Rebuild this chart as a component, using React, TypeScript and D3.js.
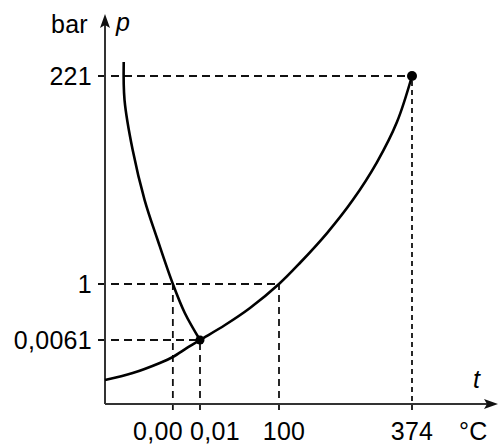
import React from 'react';
import * as d3 from 'd3';

// ticks on the axes
const tempTicks = [0, 0.01, 100, 374];
const tempLabels = ['0,00', '0,01', '100', '374'];
const pressTicks = [0.0061, 1, 221];
const pressLabels = ['0,0061', '1', '221'];

// melting curve (t in °C, p in bar), schematic
const meltT = [-0.0181, -0.0178, -0.0148, -0.0104, -0.0056, 0, 0.0044, 0.01];
const meltP = [235.8, 195.6, 142.7, 89.8, 47.5, 1, 0.485, 0.0061];

// sublimation + vaporization curve
const vapT = [-0.025, -0.0148, -0.0048, 0, 0.0052, 0.01, 31.7, 63.3, 100, 143, 199, 252, 302, 343, 374];
const vapP = [0.00229, 0.00295, 0.00391, 0.00448, 0.00534, 0.0061, 0.272, 0.574, 1, 23.2, 54.9, 89.8, 130, 172.3, 221];

const triplePoint = [0.01, 0.0061];
const criticalPoint = [374, 221];

const W = 499;
const H = 445;

const App = () => {
  // the diagram is not to scale: piecewise linear scales
  const x = d3.scaleLinear().domain([-0.025, 0.01, 100, 374]).range([105, 200, 279, 412]);
  const y = d3.scaleLinear().domain([0, 0.0061, 1, 221]).range([404, 340, 284, 76]);

  const x0 = x(-0.025);
  const y0 = y(0);
  const xEnd = 498;
  const yTop = 14;

  const line = d3.line<number[]>()
    .x(d => x(d[0]))
    .y(d => y(d[1]))
    .curve(d3.curveCatmullRom.alpha(0.5));

  const melt = meltT.map((t, i) => [t, meltP[i]]);
  const vap = vapT.map((t, i) => [t, vapP[i]]);

  const font = '"Liberation Sans", Arial, Helvetica, sans-serif';
  const dash = { stroke: '#111', strokeWidth: 1.8, fill: 'none' };

  // where each horizontal dashed line ends / vertical one starts
  const hEnd = [x(0.01), x(100), x(374)];
  const vTop = [y(1), y(0.0061), y(1), y(221)];

  // label placement for the crowded x ticks
  const xLabelAnchor = ['end', 'start', 'middle', 'middle'];
  const xLabelDx = [10, -10, 5, 0];

  return (
    <svg width={W} height={H} style={{ position: 'fixed', left: 0, top: 0, background: '#fff' }}>
      {/* dashed guides */}
      {pressTicks.map((p, i) => (
        <line key={'h' + i} x1={x0 - 7} x2={hEnd[i]} y1={y(p)} y2={y(p)} {...dash} strokeDasharray="8,5" />
      ))}
      {tempTicks.map((t, i) => (
        <line key={'v' + i} x1={x(t)} x2={x(t)} y1={y0 + 6} y2={vTop[i]} {...dash}
          strokeDasharray={i === 3 ? '5,4' : '7,5'} />
      ))}

      {/* axes */}
      <line x1={x0} x2={xEnd - 8} y1={y0} y2={y0} stroke="#333" strokeWidth={2} />
      <line x1={x0} x2={x0} y1={y0} y2={yTop + 8} stroke="#333" strokeWidth={2} />
      <path d={`M${xEnd},${y0} L${xEnd - 14},${y0 - 5} L${xEnd - 11},${y0} L${xEnd - 14},${y0 + 5} Z`} fill="#111" />
      <path d={`M${x0},${yTop} L${x0 - 5},${yTop + 14} L${x0},${yTop + 11} L${x0 + 5},${yTop + 14} Z`} fill="#111" />

      {/* phase curves */}
      <path d={line(melt) || ''} fill="none" stroke="#000" strokeWidth={2.6} />
      <path d={line(vap) || ''} fill="none" stroke="#000" strokeWidth={2.6} />
      <circle cx={x(triplePoint[0])} cy={y(triplePoint[1])} r={4.5} fill="#000" />
      <circle cx={x(criticalPoint[0])} cy={y(criticalPoint[1])} r={5} fill="#000" />

      {/* tick labels */}
      <g fontFamily={font} fontSize={25} fill="#000" letterSpacing={0.3}>
        {pressTicks.map((p, i) => (
          <text key={'py' + i} x={92} y={y(p) + 9} textAnchor="end">{pressLabels[i]}</text>
        ))}
        {tempTicks.map((t, i) => (
          <text key={'tx' + i} x={x(t) + xLabelDx[i]} y={440} textAnchor={xLabelAnchor[i]}>{tempLabels[i]}</text>
        ))}
        <text x={459} y={440}>°C</text>
        <text x={88} y={33} textAnchor="end">bar</text>
        <text x={116} y={31} fontStyle="italic">p</text>
        <text x={473} y={388} fontStyle="italic">t</text>
      </g>
    </svg>
  );
};

export default App;
